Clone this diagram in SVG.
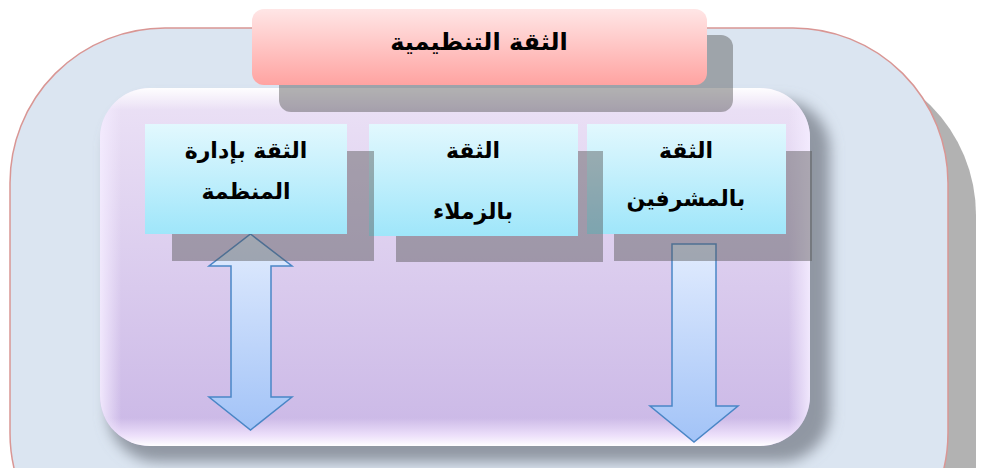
<svg xmlns="http://www.w3.org/2000/svg" width="989" height="468" viewBox="0 0 989 468">
<defs>
<linearGradient id="gPink" x1="0" y1="0" x2="0" y2="1">
<stop offset="0" stop-color="#ffe6e6"/><stop offset="1" stop-color="#ffa3a1"/>
</linearGradient>
<linearGradient id="gPurple" x1="0" y1="0" x2="0" y2="1">
<stop offset="0" stop-color="#ece2f6"/><stop offset="1" stop-color="#cab7e6"/>
</linearGradient>
<linearGradient id="gBox" x1="0" y1="0" x2="0" y2="1">
<stop offset="0" stop-color="#e2f8fe"/><stop offset="1" stop-color="#9fe6fa"/>
</linearGradient>
<linearGradient id="gArrow" x1="0" y1="0" x2="0" y2="1">
<stop offset="0" stop-color="#e2ecfe"/><stop offset="1" stop-color="#a2c3f7"/>
</linearGradient>
<linearGradient id="gHiTop" x1="0" y1="0" x2="0" y2="1">
<stop offset="0" stop-color="#ffffff" stop-opacity="0.95"/><stop offset="1" stop-color="#ffffff" stop-opacity="0"/>
</linearGradient>
<linearGradient id="gHiBot" x1="0" y1="0" x2="0" y2="1">
<stop offset="0" stop-color="#f4e8ff" stop-opacity="0"/><stop offset="0.6" stop-color="#f4e8ff" stop-opacity="0.8"/><stop offset="1" stop-color="#ffffff" stop-opacity="1"/>
</linearGradient>
<linearGradient id="gHiSide" x1="0" y1="0" x2="1" y2="0">
<stop offset="0" stop-color="#f4ecff" stop-opacity="0.9"/><stop offset="0.03" stop-color="#f4ecff" stop-opacity="0"/><stop offset="0.97" stop-color="#f4ecff" stop-opacity="0"/><stop offset="1" stop-color="#f4ecff" stop-opacity="0.9"/>
</linearGradient>
<clipPath id="clipInner">
<rect x="100" y="88" width="710" height="358" rx="50" ry="50"/>
</clipPath>
<filter id="blur" x="-20%" y="-20%" width="140%" height="140%">
<feGaussianBlur stdDeviation="7"/>
</filter>
<style>
.txt{font-family:"DejaVu Sans",sans-serif;font-weight:bold;fill:#000;text-anchor:middle}
.shadow{fill:#555555;fill-opacity:0.45}
.box{fill:url(#gBox)}
.arrow{fill:url(#gArrow);stroke:#4a86c6;stroke-width:1.5;stroke-linejoin:miter}
</style>
</defs>
<rect width="989" height="468" fill="#ffffff"/>
<!-- outer panel -->
<g id="outer">
<rect x="38" y="60" width="938" height="560" rx="155" ry="155" fill="#b2b2b2"/>
<rect x="10" y="28" width="938" height="560" rx="155" ry="155" fill="#dbe5f1" stroke="#d99694" stroke-width="1.5"/>
</g>
<!-- inner panel -->
<g id="inner">
<rect x="108" y="100" width="722" height="362" rx="50" ry="50" fill="#7d858e" fill-opacity="0.8" filter="url(#blur)"/>
<rect x="100" y="88" width="710" height="358" rx="50" ry="50" fill="url(#gPurple)"/>
<g clip-path="url(#clipInner)">
<rect x="100" y="88" width="710" height="358" fill="url(#gHiSide)"/>
<rect x="100" y="88" width="710" height="22" fill="url(#gHiTop)"/>
<rect x="100" y="418" width="710" height="28" fill="url(#gHiBot)"/>
</g>
</g>
<!-- title -->
<g id="title">
<rect x="279" y="35" width="454" height="77" rx="12" ry="12" fill="#555555" fill-opacity="0.45"/>
<rect x="252" y="9" width="455" height="76" rx="12" ry="12" fill="url(#gPink)"/>
<text class="txt" x="479" y="50" font-size="24">الثقة التنظيمية</text>
</g>
<!-- connectors -->
<g id="connectors">
<path class="arrow" d="M250.5,234 L292,266 L271,266 L271,397 L292,397 L250.5,430 L209,397 L231,397 L231,266 L209,266 Z"/>
<path class="arrow" d="M672,244 L716,244 L716,406 L738,406 L694,442 L650,406 L672,406 Z"/>
</g>
<!-- nodes (drawn right to left) -->
<g id="node-supervisors">
<rect class="shadow" x="614" y="151" width="198" height="110"/>
<rect class="box" x="587" y="124" width="199" height="110"/>
<text class="txt" x="686" y="158" font-size="22">الثقة</text>
<text class="txt" x="686" y="206" font-size="22">بالمشرفين</text>
</g>
<g id="node-colleagues">
<rect class="shadow" x="396" y="151" width="207" height="111"/>
<rect class="box" x="369" y="124" width="209" height="112"/>
<text class="txt" x="473" y="158" font-size="22">الثقة</text>
<text class="txt" x="473" y="219" font-size="22">بالزملاء</text>
</g>
<g id="node-management">
<rect class="shadow" x="172" y="151" width="202" height="110"/>
<rect class="box" x="145" y="124" width="202" height="110"/>
<text class="txt" x="246" y="158" font-size="22">الثقة بإدارة</text>
<text class="txt" x="246" y="199" font-size="22">المنظمة</text>
</g>
</svg>
